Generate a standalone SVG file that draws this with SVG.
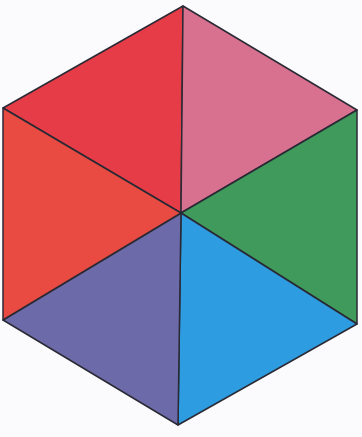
<svg xmlns="http://www.w3.org/2000/svg" width="362" height="437" viewBox="0 0 362 437">
<style>
.t{stroke:#2a2a35;stroke-width:1.5;stroke-linejoin:round}
</style>
<rect width="362" height="437" fill="#fbfbfd"/>
<g id="hexagon">
<polygon id="tri-top-left" class="t" fill="#e53c47" points="3,108 183,6 181,213"/>
<polygon id="tri-top-right" class="t" fill="#d8708f" points="183,6 357,110 181,213"/>
<polygon id="tri-right" class="t" fill="#3f9a5c" points="357,110 357,324 181,213"/>
<polygon id="tri-bottom-right" class="t" fill="#2e9ce0" points="357,324 178,425 181,213"/>
<polygon id="tri-bottom-left" class="t" fill="#6c6aa9" points="178,425 3,320 181,213"/>
<polygon id="tri-left" class="t" fill="#e94a41" points="3,320 3,108 181,213"/>
</g>
</svg>
